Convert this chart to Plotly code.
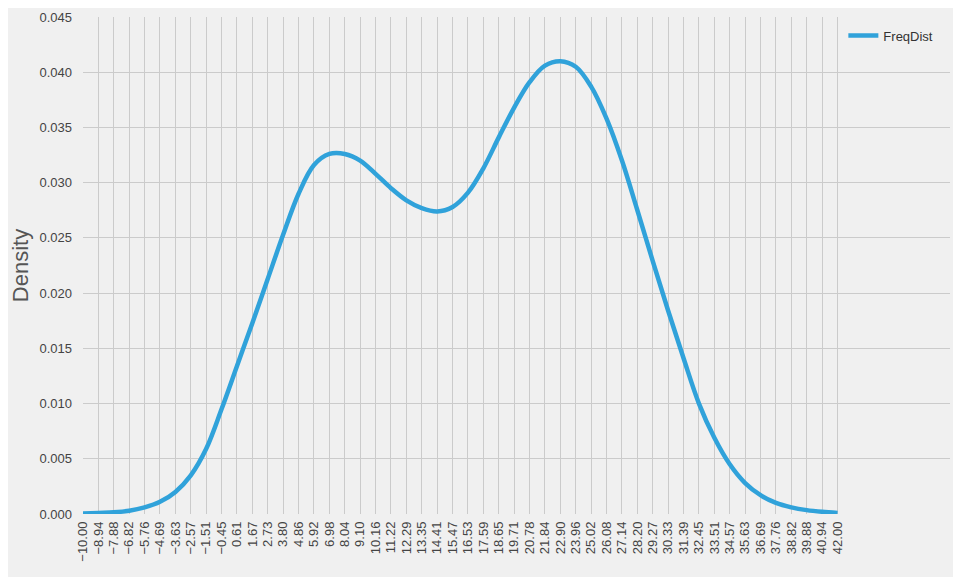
import numpy as np
import plotly.graph_objects as go

# x positions of the ticks (the KDE was evaluated / labelled at these)
x_ticks = np.linspace(-10, 42, 50)
tick_labels = [("%.2f" % v).replace("-", "\u2212") for v in x_ticks]

# density at each tick position
density = [
    0.00005, 0.0001, 0.00015, 0.0003, 0.0006, 0.0011, 0.0020, 0.0035, 0.0059, 0.0095,
    0.0134, 0.0173, 0.0213, 0.0253, 0.0290, 0.0316, 0.0326, 0.0326, 0.0320, 0.0308,
    0.0295, 0.0284, 0.0277, 0.0274, 0.0278, 0.0291, 0.0313, 0.0341, 0.0368, 0.0391,
    0.0406, 0.0410, 0.0405, 0.0387, 0.0358, 0.0320, 0.0275, 0.0229, 0.0184, 0.0141,
    0.0100, 0.0069, 0.0045, 0.0028, 0.0017, 0.0010, 0.0006, 0.00035, 0.0002, 0.0001,
]

fig = go.Figure()
fig.add_trace(go.Scatter(
    x=x_ticks, y=density, mode="lines", name="FreqDist",
    line=dict(color="#30a2da", width=4.5, shape="spline", smoothing=1.0),
))

# page body has an 8px margin, so the figure is 8px smaller on each side
fig.update_layout(
    width=953, height=569,
    paper_bgcolor="#f0f0f0", plot_bgcolor="#f0f0f0",
    margin=dict(l=75, r=11, t=9, b=63),
    font=dict(family="Liberation Sans, Arial, sans-serif", size=13, color="#444"),
    showlegend=True,
    legend=dict(x=0.877, y=0.993, xanchor="left", yanchor="top",
                bgcolor="rgba(0,0,0,0)", itemwidth=30,
                font=dict(size=13, color="#333")),
)
fig.update_xaxes(
    range=[-10, 49.75], tickmode="array", tickvals=x_ticks, ticktext=tick_labels,
    tickangle=-90, showgrid=True, gridcolor="#cbcbcb", gridwidth=1.3,
    zeroline=False, showline=False, ticks="", ticklabelstandoff=4,
    automargin=False,
)
fig.update_yaxes(
    range=[0, 0.045], dtick=0.005, tickformat=".3f",
    showgrid=True, gridcolor="#cbcbcb", gridwidth=1.3,
    zeroline=False, showline=False, ticks="", ticklabelstandoff=10,
    title=dict(text="Density", font=dict(size=22, color="#555"), standoff=8),
    automargin=False,
)

fig.write_html("out.html")
